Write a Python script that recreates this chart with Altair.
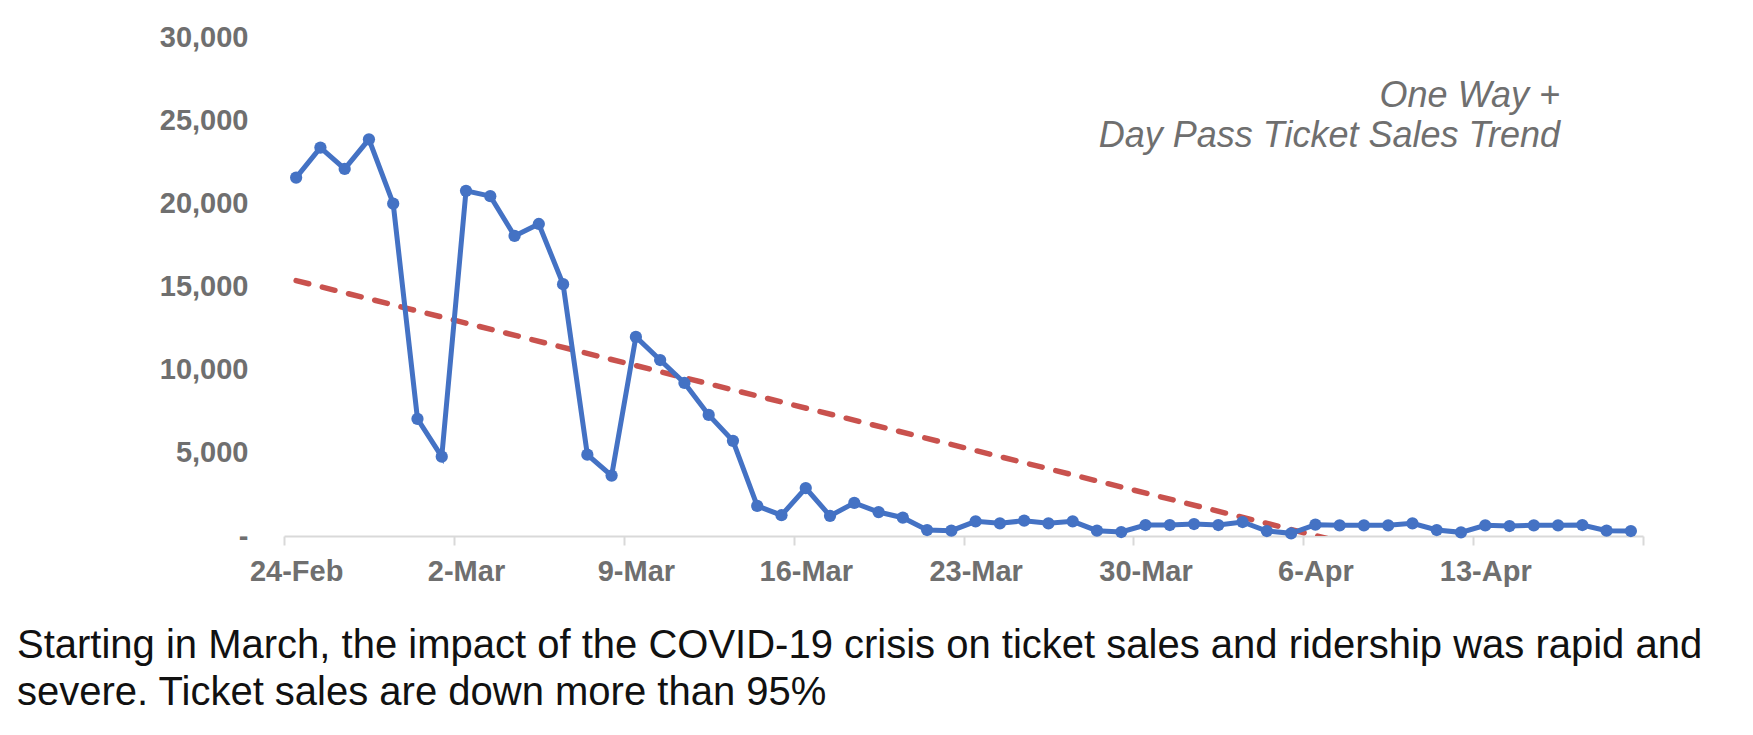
import json
import altair as alt
import pandas as pd

# ---- data ----
dates = [d.strftime("%-d-%b") for d in pd.date_range("2020-02-24", "2020-04-19")]
sales = [
    21550, 23350, 22070, 23850, 19980, 7040, 4770, 20750, 20430, 18040,
    18760, 15140, 4890, 3630, 11970, 10580, 9200, 7280, 5720, 1810,
    1250, 2880, 1210, 1990, 1440, 1100, 360, 320,
    880, 760, 920, 760, 880, 320, 240, 660, 660, 720,
    660, 840, 300, 160, 680, 640, 640, 640, 760, 360,
    220, 640, 600, 640, 640, 660, 320, 300,
]
tick_labels = ["24-Feb", "2-Mar", "9-Mar", "16-Mar", "23-Mar", "30-Mar", "6-Apr", "13-Apr"]
y_ticks = [0, 5000, 10000, 15000, 20000, 25000, 30000]
title_lines = ["One Way +", "Day Pass Ticket Sales Trend"]
caption_lines = [
    "Starting in March, the impact of the COVID-19 crisis on ticket sales and ridership was rapid and",
    "severe. Ticket sales are down more than 95%",
]

df = pd.DataFrame({"date": dates, "day": list(range(len(dates))), "sales": sales})

W, H = 1359, 499
n = len(dates)
half_step = W / n / 2
FONT = "Liberation Sans"
GRAY = "#6f6f6f"
BLUE = "#4472C4"
RED = "#C9524E"

boundaries = [i * 7 - 0.5 for i in range(len(tick_labels) + 1)]
label_expr = f"{json.dumps(tick_labels)}[round((datum.value + 0.5) / 7)] || ''"

x_enc = alt.X(
    "day:Q",
    scale=alt.Scale(domain=[-0.5, n - 0.5], nice=False, zero=False),
    axis=alt.Axis(
        values=boundaries,
        labelExpr=label_expr,
        labelOffset=half_step,
        title=None,
        grid=False,
        domainColor="#d9d9d9",
        domainWidth=2,
        tickColor="#d9d9d9",
        tickWidth=2,
        tickSize=9,
        labelPadding=12,
        labelFont=FONT,
        labelFontSize=29,
        labelFontWeight="bold",
        labelColor=GRAY,
        labelAlign="center",
        labelFlush=False,
        labelOverlap=False,
    ),
)
y_enc = alt.Y(
    "sales:Q",
    scale=alt.Scale(domain=[0, 30000], nice=False),
    axis=alt.Axis(
        values=y_ticks,
        labelExpr="datum.value == 0 ? '-\u00a0\u00a0' : format(datum.value, ',')",
        title=None,
        grid=False,
        domain=False,
        ticks=False,
        tickSize=0,
        labelPadding=36,
        labelFont=FONT,
        labelFontSize=29,
        labelFontWeight="bold",
        labelColor=GRAY,
    ),
)

base = alt.Chart(df).encode(x=x_enc, y=y_enc)

trend = (
    alt.Chart(df)
    .transform_regression("day", "sales", method="linear")
    .mark_line(color=RED, strokeWidth=5.5, strokeDash=[13, 14], strokeCap="round", clip=True)
    .encode(x=alt.X("day:Q"), y=alt.Y("sales:Q"))
)
line = base.mark_line(color=BLUE, strokeWidth=5)
pts = base.mark_point(filled=True, size=150, color=BLUE, opacity=1)

title_layers = []
for i, t in enumerate(title_lines):
    title_layers.append(
        alt.Chart(pd.DataFrame({"t": [t]}))
        .mark_text(font=FONT, fontSize=36, fontStyle="italic", color=GRAY,
                   align="right", baseline="middle")
        .encode(text="t:N", x=alt.value(1276), y=alt.value(59 + 40 * i))
    )

caption_layers = []
for i, t in enumerate(caption_lines):
    caption_layers.append(
        alt.Chart(pd.DataFrame({"t": [t]}))
        .mark_text(font=FONT, fontSize=40, color="#111111", align="left", baseline="middle")
        .encode(text="t:N", x=alt.value(-267), y=alt.value(609 + 47 * i))
    )

chart = (
    alt.layer(trend, line, pts, *title_layers, *caption_layers)
    .properties(
        width=W,
        height=H,
        autosize=alt.AutoSizeParams(type="none"),
        padding={"left": 276, "top": 29, "right": 102, "bottom": 191},
        background="white",
    )
    .configure_view(strokeWidth=0)
)

chart.save("out.html", embed_options={"renderer": "svg", "actions": False})
